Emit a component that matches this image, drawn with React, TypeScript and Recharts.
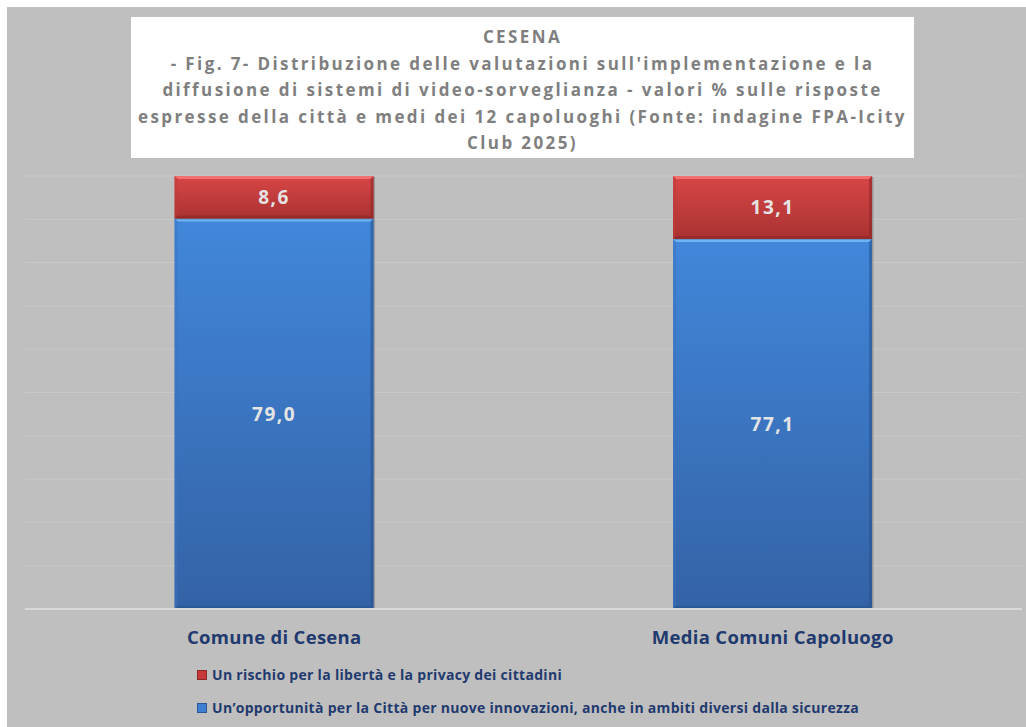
import React from 'react';
import { BarChart, Bar, XAxis, YAxis, CartesianGrid, LabelList } from 'recharts';

const categories = ['Comune di Cesena', 'Media Comuni Capoluogo'];
const opportunita = [79.0, 77.1];
const rischio = [8.6, 13.1];
const yTicks = [0, 0.1, 0.2, 0.3, 0.4, 0.5, 0.6, 0.7, 0.8, 0.9, 1];
const titleLines = [
  'CESENA',
  "- Fig. 7- Distribuzione delle valutazioni sull'implementazione e la",
  'diffusione di sistemi di video-sorveglianza - valori % sulle risposte',
  'espresse della città e medi dei 12 capoluoghi (Fonte: indagine FPA-Icity',
  'Club 2025)',
];
const legendItems = [
  { label: 'Un rischio per la libertà e la privacy dei cittadini', color: '#c83838' },
  { label: 'Un’opportunità per la Città per nuove innovazioni, anche in ambiti diversi dalla sicurezza', color: '#3d7fd2' },
];

const data = categories.map((name, i) => ({ name, opportunita: opportunita[i], rischio: rischio[i] }));

const FONT = '"Open Sans", "DejaVu Sans", sans-serif';
const NAVY = '#1f3a6e';

function makeShape(gradId: string, hi: string, lo: string, side: string) {
  return (props: any) => {
    const { x, y, width: w, height: h } = props;
    if (w == null || h == null || h <= 0) return null;
    const b = 3;
    return (
      <g>
        <rect x={x + 1.5} y={y + 1} width={w} height={h} fill="rgba(0,0,0,0.18)" />
        <rect x={x} y={y} width={w} height={h} fill={`url(#${gradId})`} />
        <polygon points={`${x},${y} ${x + w},${y} ${x + w - b},${y + b} ${x + b},${y + b}`} fill={hi} />
        <polygon points={`${x},${y} ${x + b},${y + b} ${x + b},${y + h - b} ${x},${y + h}`} fill={side} opacity={0.5} />
        <polygon points={`${x + w},${y} ${x + w},${y + h} ${x + w - b},${y + h - b} ${x + w - b},${y + b}`} fill={lo} opacity={0.6} />
        <polygon points={`${x},${y + h} ${x + b},${y + h - b} ${x + w - b},${y + h - b} ${x + w},${y + h}`} fill={lo} opacity={0.7} />
      </g>
    );
  };
}

const blueShape = makeShape('gradBlue', '#6db2f4', '#2a5490', '#3a74c0');
const redShape = makeShape('gradRed', '#f27070', '#8e2828', '#c03a3a');

function makeLabel(values: number[]) {
  return (props: any) => {
    const { x, y, width, height, index } = props;
    const v = values[index];
    if (v == null) return null;
    return (
      <text
        x={x + width / 2}
        y={y + height / 2}
        textAnchor="middle"
        dominantBaseline="central"
        fill="#e4e4e4"
        fontFamily={FONT}
        fontWeight="bold"
        fontSize={19}
        letterSpacing={1.5}
      >
        {v.toFixed(1).replace('.', ',')}
      </text>
    );
  };
}

const XTick = (props: any) => {
  const { x, y, payload } = props;
  return (
    <text x={x} y={y} dy={27} textAnchor="middle" fill={NAVY} fontFamily={FONT} fontWeight="bold" fontSize={18.5} letterSpacing={0.3}>
      {payload.value}
    </text>
  );
};

export default function App() {
  return (
    <div
      style={{
        position: 'absolute',
        left: 7,
        top: 7,
        width: 1019,
        height: 720,
        background: '#bfbfbf',
        overflow: 'hidden',
      }}
    >
      <BarChart
        width={1019}
        height={720}
        data={data}
        stackOffset="expand"
        barCategoryGap="30%"
        margin={{ top: 169, right: 4, left: 18, bottom: 88 }}
      >
        <defs>
          <linearGradient id="gradBlue" x1="0" y1="0" x2="0" y2="1">
            <stop offset="0%" stopColor="#4187da" />
            <stop offset="100%" stopColor="#3462a6" />
          </linearGradient>
          <linearGradient id="gradRed" x1="0" y1="0" x2="0" y2="1">
            <stop offset="0%" stopColor="#d84646" />
            <stop offset="100%" stopColor="#aa3232" />
          </linearGradient>
        </defs>
        <CartesianGrid vertical={false} stroke="#c9c9c9" strokeWidth={1} />
        <YAxis hide type="number" domain={[0, 1]} ticks={yTicks} />
        <XAxis
          dataKey="name"
          height={30}
          axisLine={{ stroke: '#d9d9d9', strokeWidth: 2 }}
          tickLine={false}
          tick={<XTick />}
          interval={0}
        />
        <Bar dataKey="opportunita" stackId="a" isAnimationActive={false} shape={blueShape}>
          <LabelList dataKey="opportunita" content={makeLabel(opportunita)} />
        </Bar>
        <Bar dataKey="rischio" stackId="a" isAnimationActive={false} shape={redShape}>
          <LabelList dataKey="rischio" content={makeLabel(rischio)} />
        </Bar>
      </BarChart>

      <div
        style={{
          position: 'absolute',
          left: 124,
          top: 10,
          width: 783,
          height: 141,
          background: '#ffffff',
          boxSizing: 'border-box',
          paddingTop: 7,
          textAlign: 'center',
          fontFamily: FONT,
          fontWeight: 'bold',
          fontSize: 17,
          letterSpacing: 2.4,
          lineHeight: '26.5px',
          color: '#7f7f7f',
        }}
      >
        {titleLines.map((l, i) => (
          <div key={i} style={{ whiteSpace: 'nowrap' }}>{l}</div>
        ))}
      </div>

      <div style={{ position: 'absolute', left: 190, top: 651, fontFamily: FONT, fontWeight: 'bold', fontSize: 14, letterSpacing: 0.3, color: NAVY }}>
        {legendItems.map((it, i) => (
          <div key={i} style={{ display: 'flex', alignItems: 'center', height: 33, whiteSpace: 'nowrap' }}>
            <span
              style={{
                display: 'inline-block',
                width: 8,
                height: 8,
                background: it.color,
                border: '0.5px solid rgba(0,0,0,0.3)',
                marginRight: 5,
              }}
            />
            <span>{it.label}</span>
          </div>
        ))}
      </div>
    </div>
  );
}
